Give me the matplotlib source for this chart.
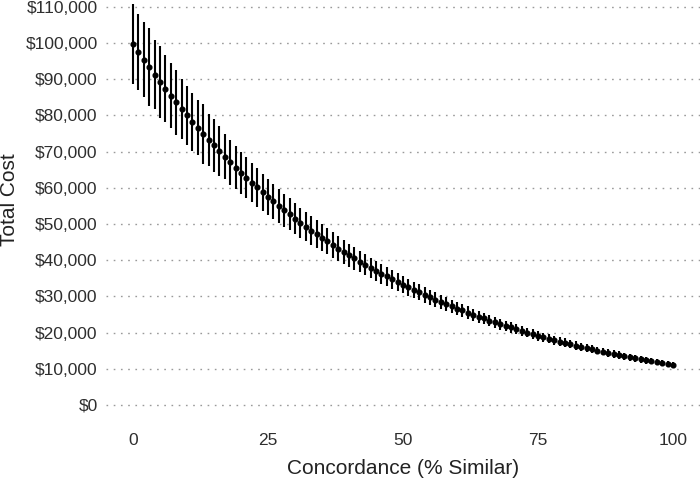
import matplotlib
matplotlib.use("Agg")
import matplotlib.pyplot as plt
from matplotlib.ticker import FuncFormatter

# Concordance (% similar), 0..100
concordance = list(range(0, 101))

# Mean total cost
total_cost = [
    99700, 97500, 95400, 93300, 91300, 89300, 87400, 85500, 83600, 81800,
    80000, 78300, 76600, 74900, 73300, 71700, 70100, 68600, 67100, 65600,
    64200, 62800, 61400, 60100, 58800, 57500, 56300, 55000, 53800, 52700,
    51500, 50400, 49300, 48200, 47200, 46200, 45200, 44200, 43200, 42300,
    41400, 40500, 39600, 38700, 37900, 37000, 36200, 35500, 34700, 33900,
    33200, 32500, 31800, 31100, 30400, 29700, 29100, 28400, 27800, 27200,
    26600, 26100, 25500, 24900, 24400, 23900, 23300, 22800, 22300, 21800,
    21400, 20900, 20500, 20000, 19600, 19100, 18700, 18300, 17900, 17500,
    17200, 16800, 16400, 16100, 15700, 15400, 15000, 14700, 14400, 14100,
    13800, 13500, 13200, 12900, 12600, 12300, 12100, 11800, 11500, 11300,
    11000,
]

# Half-width of the error bars
cost_error = [
    11000, 10500, 10400, 10800, 9500, 10000, 9300, 8900, 8900, 8200,
    8200, 8000, 7600, 8200, 7200, 7200, 6900, 6300, 6200, 6000,
    5800, 5620, 5450, 5280, 5120, 4970, 4820, 4670, 4530, 4390,
    4260, 4140, 4010, 3900, 3780, 3670, 3570, 3460, 3360, 3270,
    3170, 3080, 3000, 2910, 2830, 2750, 2680, 2600, 2530, 2460,
    2400, 2340, 2270, 2210, 2160, 2100, 2050, 1990, 1940, 1900,
    1850, 1800, 1760, 1720, 1680, 1640, 1600, 1560, 1530, 1490,
    1460, 1430, 1390, 1360, 1340, 1310, 1280, 1250, 1230, 1200,
    1180, 1160, 1140, 1110, 1090, 1070, 1050, 1040, 1020, 1000,
    980, 970, 950, 940, 920, 910, 890, 880, 870, 860,
    840,
]

x_ticks = [0, 25, 50, 75, 100]
y_ticks = list(range(0, 110001, 10000))

plt.rcParams['font.family'] = ['Liberation Sans', 'DejaVu Sans']

fig = plt.figure(figsize=(7.0, 4.79), dpi=100)
ax = fig.add_axes([106 / 700, (479 - 427) / 479, 594 / 700, 427 / 479])

ax.errorbar(concordance, total_cost, yerr=cost_error, fmt='o', color='black',
            ms=3.4, elinewidth=1.5, capsize=0, zorder=3)

ax.set_xlim(-5, 105)
ax.set_ylim(-6100, 111900)
ax.set_xticks(x_ticks)
ax.set_yticks(y_ticks)
ax.yaxis.set_major_formatter(FuncFormatter(lambda v, p: f"${int(v):,}"))

for s in ax.spines.values():
    s.set_visible(False)
ax.tick_params(axis='both', length=0, labelsize=12.5, colors='#2e2e2e')
ax.tick_params(axis='y', pad=6)
ax.tick_params(axis='x', pad=4)
ax.grid(axis='y', color='#9a9a9a', linewidth=1.0, linestyle=(0, (1.2, 4.0)))
ax.grid(axis='x', visible=False)
ax.set_axisbelow(True)

ax.set_xlabel('Concordance (% Similar)', fontsize=15, color='#222222', labelpad=8.5)
fig.text(10 / 700, 1 - 200 / 479, 'Total Cost', rotation=90, fontsize=15,
         color='#222222', ha='center', va='center')

fig.savefig('out.png', dpi=100)
